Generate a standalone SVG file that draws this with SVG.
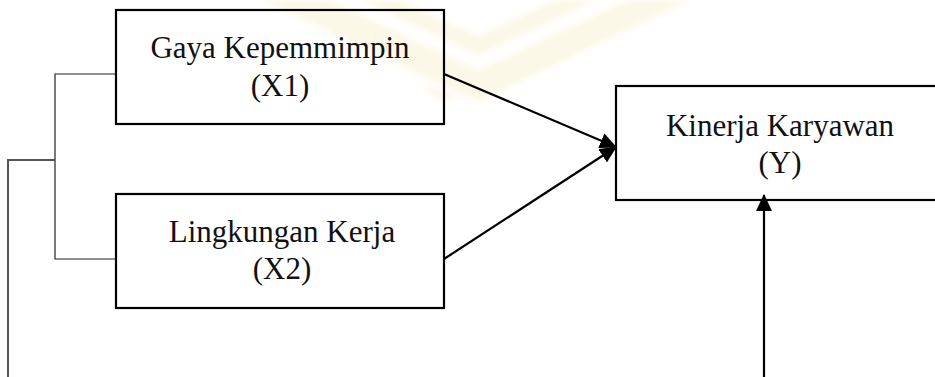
<svg xmlns="http://www.w3.org/2000/svg" width="935" height="377" viewBox="0 0 935 377">
  <style>
    .box { fill: none; stroke: #000; stroke-width: 2.2; }
    .label { font-family: "Liberation Serif", "Times New Roman", serif; font-size: 31px; fill: #111; text-anchor: middle; }
    .arrow { fill: none; stroke: #000; stroke-width: 2.2; }
    .link { fill: none; stroke: #222; stroke-width: 1.2; }
    .link-outer { fill: none; stroke: #555; stroke-width: 2; }
    .mark { fill: #f6e7b0; opacity: 0.3; }
  </style>
  <defs>
    <marker id="head" viewBox="0 0 17 16" refX="16" refY="8" markerWidth="17" markerHeight="16" markerUnits="userSpaceOnUse" orient="auto">
      <path d="M0,0 L17,8 L0,16 z" fill="#000"/>
    </marker>
    <filter id="soft" x="-10%" y="-10%" width="120%" height="120%">
      <feGaussianBlur stdDeviation="3"/>
    </filter>
  </defs>

  <rect width="935" height="377" fill="#fff"/>

  <!-- faint background emblem -->
  <g id="emblem" filter="url(#soft)">
    <path class="mark" d="M262,0 L330,0 L478,70 L628,0 L690,0 L478,102 Z"/>
    <path class="mark" d="M360,0 L400,0 L478,36 L556,0 L596,0 L478,56 Z"/>
    <path class="mark" d="M420,84 L460,96 L440,102 Z"/>
  </g>

  <!-- connectors -->
  <g id="connectors">
    <polyline class="link" points="116,74 55,74 55,259 116,259"/>
    <polyline class="link-outer" points="55,160 8,160 8,377"/>
    <line class="arrow" x1="444" y1="74" x2="616" y2="147" marker-end="url(#head)"/>
    <line class="arrow" x1="444" y1="259" x2="616" y2="147" marker-end="url(#head)"/>
    <line class="arrow" x1="764" y1="377" x2="764" y2="195" marker-end="url(#head)"/>
  </g>

  <g id="node-x1">
    <rect class="box" x="116" y="10" width="328" height="114"/>
    <text class="label" x="280" y="58">Gaya Kepemmimpin</text>
    <text class="label" x="280" y="96">(X1)</text>
  </g>

  <g id="node-x2">
    <rect class="box" x="116" y="194" width="328" height="114"/>
    <text class="label" x="282" y="242">Lingkungan Kerja</text>
    <text class="label" x="282" y="279">(X2)</text>
  </g>

  <g id="node-y">
    <rect class="box" x="616" y="86" width="330" height="114"/>
    <text class="label" x="780" y="136">Kinerja Karyawan</text>
    <text class="label" x="780" y="173">(Y)</text>
  </g>
</svg>
